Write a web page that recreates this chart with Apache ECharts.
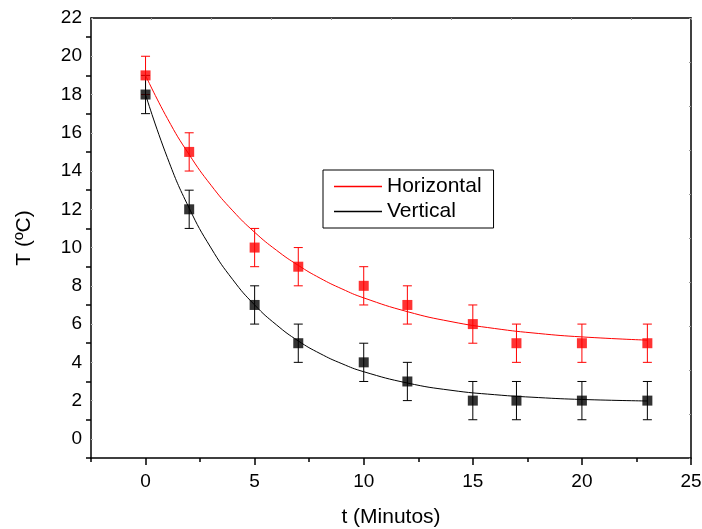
<!DOCTYPE html>
<html lang="pt">
<head>
    <meta charset="UTF-8">
    <title>T x t</title>
    <script src="https://cdn.jsdelivr.net/npm/echarts@6/dist/echarts.min.js"></script>
</head>
<body style="margin:0">
<div id="mybox" style="height: 529px;width: 702px;"></div>
<script>
    // medidas
    var tempo = [0, 2, 5, 7, 10, 12, 15, 17, 20, 23];
    var horizontal = [19, 15, 10, 9, 8, 7, 6, 5, 5, 5];
    var vertical = [18, 12, 7, 5, 4, 3, 2, 2, 2, 2];
    var erroH = [1, 1, 1, 1, 1, 1, 1, 1, 1, 1];
    var erroV = [1, 1, 1, 1, 1, 1, 1, 1, 1, 1];

    // curvas de ajuste
    var ajusteX = [0, 1, 2, 3, 4, 5, 6, 7, 8, 9, 10, 12, 14, 16, 18, 20, 23];
    var ajusteH = [19.0, 16.75, 14.86, 13.26, 11.92, 10.8, 9.86, 9.07, 8.4, 7.84, 7.37, 6.65, 6.13, 5.77, 5.51, 5.33, 5.16];
    var ajusteV = [18.0, 14.7, 12.06, 9.98, 8.32, 7.0, 5.96, 5.12, 4.46, 3.93, 3.51, 2.92, 2.54, 2.31, 2.16, 2.06, 1.98];

    // marcas dos eixos
    var xRotulos = [0, 5, 10, 15, 20, 25];
    var xMenores = [-2.5, 2.5, 7.5, 12.5, 17.5, 22.5];
    var yRotulos = [0, 2, 4, 6, 8, 10, 12, 14, 16, 18, 20, 22];
    var yMarcas = [-1, 1, 3, 5, 7, 9, 11, 13, 15, 17, 19, 21];
    var moldura = ['', '', '', '', '', '', '', '', '', '', ''];

    function pares(xs, ys) {
        return xs.map(function (x, i) { return [x, ys[i]]; });
    }
    function barras(xs, ys, es) {
        return xs.map(function (x, i) { return [x, ys[i] - es[i], ys[i] + es[i]]; });
    }
    function desenhaErro(cor) {
        return function (params, api) {
            var lo = api.coord([api.value(0), api.value(1)]);
            var hi = api.coord([api.value(0), api.value(2)]);
            var w = 4.5;
            var st = {stroke: cor, lineWidth: 1};
            return {
                type: 'group',
                children: [
                    {type: 'line', shape: {x1: lo[0], y1: lo[1], x2: hi[0], y2: hi[1]}, style: st},
                    {type: 'line', shape: {x1: lo[0] - w, y1: lo[1], x2: lo[0] + w, y2: lo[1]}, style: st},
                    {type: 'line', shape: {x1: hi[0] - w, y1: hi[1], x2: hi[0] + w, y2: hi[1]}, style: st}
                ]
            };
        };
    }

    var fam = 'Liberation Sans, Arial';
    var fonteTitulo = {fontFamily: fam, fontSize: 21, color: '#000'};
    var fonteRotulo = {fontFamily: fam, fontSize: 19, color: '#000'};
    var linhaEixo = {onZero: false, lineStyle: {color: '#000', width: 1.5}};

    var mychart = echarts.init(document.getElementById('mybox'));
    mychart.setOption({
        animation: false,
        grid: {left: 91, right: 11, top: 18, bottom: 71, containLabel: false, outerBoundsMode: 'none'},
        legend: {
            data: ['Horizontal', 'Vertical'],
            orient: 'vertical',
            left: 323,
            top: 170,
            padding: [6, 12, 6, 11],
            itemGap: 4,
            itemWidth: 48,
            itemHeight: 1.5,
            icon: 'rect',
            borderColor: '#000',
            borderWidth: 1,
            borderRadius: 0,
            textStyle: fonteTitulo
        },
        xAxis: [{
            type: 'value',
            min: -2.5,
            max: 25,
            interval: 2.5,
            name: 't (Minutos)',
            nameLocation: 'middle',
            nameGap: 49,
            nameTextStyle: fonteTitulo,
            axisLine: linhaEixo,
            axisTick: {inside: false, length: 7, customValues: xRotulos, lineStyle: {color: '#000', width: 1.5}},
            axisLabel: {margin: 14, customValues: xRotulos, textStyle: fonteRotulo},
            splitLine: {show: false}
        }, {
            type: 'category',
            position: 'top',
            data: moldura,
            boundaryGap: false,
            axisLine: linhaEixo,
            axisTick: {inside: true, length: 2, lineStyle: {color: '#999'}},
            axisLabel: {show: false},
            splitLine: {show: false}
        }, {
            type: 'value',
            position: 'bottom',
            min: -2.5,
            max: 25,
            interval: 2.5,
            axisLine: {show: false, onZero: false},
            axisTick: {inside: false, length: 4, customValues: xMenores, lineStyle: {color: '#000', width: 1.5}},
            axisLabel: {show: false},
            splitLine: {show: false}
        }],
        yAxis: [{
            type: 'value',
            min: -1,
            max: 22,
            interval: 1,
            name: 'T (ºC)',
            nameLocation: 'middle',
            nameGap: 56,
            nameTextStyle: fonteTitulo,
            axisLine: linhaEixo,
            axisTick: {inside: false, length: 5, customValues: yMarcas, lineStyle: {color: '#000', width: 1.5}},
            axisLabel: {margin: 9, customValues: yRotulos, textStyle: fonteRotulo},
            splitLine: {show: false}
        }, {
            type: 'category',
            position: 'right',
            data: moldura,
            boundaryGap: false,
            axisLine: linhaEixo,
            axisTick: {inside: true, length: 2, lineStyle: {color: '#999'}},
            axisLabel: {show: false},
            splitLine: {show: false}
        }, {
            type: 'value',
            position: 'left',
            min: -1,
            max: 22,
            interval: 1,
            axisLine: {show: false, onZero: false},
            axisTick: {inside: true, length: 2, customValues: yRotulos, lineStyle: {color: '#bbb'}},
            axisLabel: {show: false},
            splitLine: {show: false}
        }],
        series: [{
            name: 'Horizontal',
            type: 'line',
            smooth: true,
            showSymbol: false,
            color: '#ff0000',
            lineStyle: {width: 1, color: '#ff0000'},
            data: pares(ajusteX, ajusteH)
        }, {
            name: 'Vertical',
            type: 'line',
            smooth: true,
            showSymbol: false,
            color: '#000',
            lineStyle: {width: 1, color: '#000'},
            data: pares(ajusteX, ajusteV)
        }, {
            name: 'erroH',
            type: 'custom',
            renderItem: desenhaErro('#ff0000'),
            data: barras(tempo, horizontal, erroH),
            z: 3
        }, {
            name: 'erroV',
            type: 'custom',
            renderItem: desenhaErro('#000'),
            data: barras(tempo, vertical, erroV),
            z: 3
        }, {
            name: 'pontosH',
            type: 'scatter',
            symbol: 'rect',
            symbolSize: 10,
            itemStyle: {color: '#ff0000'},
            data: pares(tempo, horizontal),
            z: 4
        }, {
            name: 'pontosV',
            type: 'scatter',
            symbol: 'rect',
            symbolSize: 10,
            itemStyle: {color: '#000'},
            data: pares(tempo, vertical),
            z: 4
        }]
    });
</script>
</body>
</html>
